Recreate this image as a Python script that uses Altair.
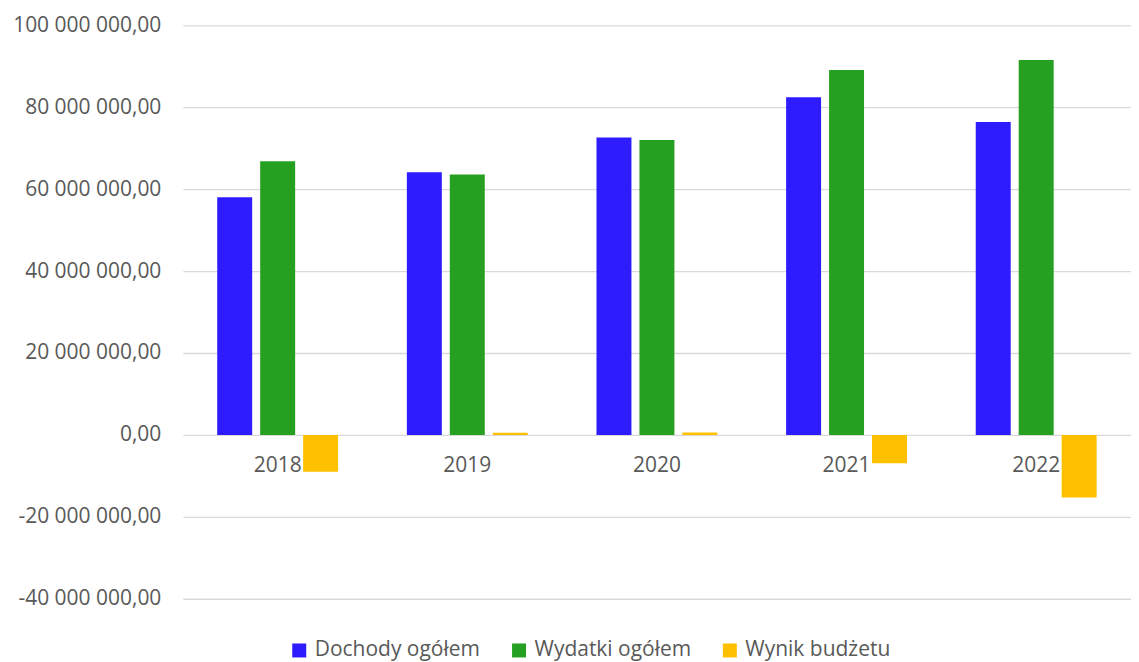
import altair as alt
import pandas as pd

years = ["2018", "2019", "2020", "2021", "2022"]
series = ["Dochody ogółem", "Wydatki ogółem", "Wynik budżetu"]
dochody = [58.0e6, 64.1e6, 72.6e6, 82.4e6, 76.4e6]
wydatki = [66.8e6, 63.6e6, 72.0e6, 89.1e6, 91.5e6]
wynik = [-9.0e6, 0.5e6, 0.6e6, -6.9e6, -15.3e6]
colors = ["#2E1CFF", "#26A020", "#FFC000"]
y_ticks = [-40e6, -20e6, 0, 20e6, 40e6, 60e6, 80e6, 100e6]

rows = []
for name, vals in zip(series, [dochody, wydatki, wynik]):
    for yr, v in zip(years, vals):
        rows.append({"year": yr, "series": name, "value": v})
df = pd.DataFrame(rows)
df_years = pd.DataFrame({"year": years})

FONT = "Open Sans"
TXT = "#595959"
FS = 21

label_expr = ("replace(replace(replace(format(datum.value, ',.2f'), regexp(',', 'g'), ' '),"
              " '.', ','), '\u2212', '-')")

x_enc = alt.X("year:N", sort=years, axis=None,
              scale=alt.Scale(paddingInner=0.3625, paddingOuter=0.18125))

bars = alt.Chart(df).mark_bar().encode(
    x=x_enc,
    xOffset=alt.XOffset("series:N", sort=series,
                        scale=alt.Scale(paddingInner=0.186, paddingOuter=0)),
    y=alt.Y("value:Q",
            scale=alt.Scale(domain=[-40e6, 100e6], nice=False, zero=False),
            axis=alt.Axis(values=y_ticks, title=None, domain=False, ticks=False,
                          grid=True, gridColor="#D9D9D9", gridWidth=1.3,
                          labelExpr=label_expr, labelFont=FONT, labelFontSize=FS,
                          labelColor=TXT, labelPadding=22,
                          minExtent=170, maxExtent=170)),
    color=alt.Color("series:N", sort=series,
                    scale=alt.Scale(domain=series, range=colors),
                    legend=alt.Legend(title=None, orient="none", direction="horizontal",
                                      legendX=106, legendY=615,
                                      symbolType="square", symbolSize=196,
                                      symbolStrokeWidth=0, labelFont=FONT,
                                      labelFontSize=FS, labelColor=TXT,
                                      labelLimit=400,
                                      columnPadding=28, labelOffset=5)),
)

year_labels = alt.Chart(df_years).mark_text(
    dy=31, font=FONT, fontSize=FS, color=TXT, baseline="middle", align="center"
).encode(
    x=x_enc,
    y=alt.datum(0),
    text="year:N",
)

chart = alt.layer(bars, year_labels).properties(
    width=949, height=574,
    padding={"left": 4, "top": 6, "right": 0, "bottom": 0},
).configure_view(stroke=None)

chart.save("out.html", embed_options={"renderer": "svg", "actions": False})
